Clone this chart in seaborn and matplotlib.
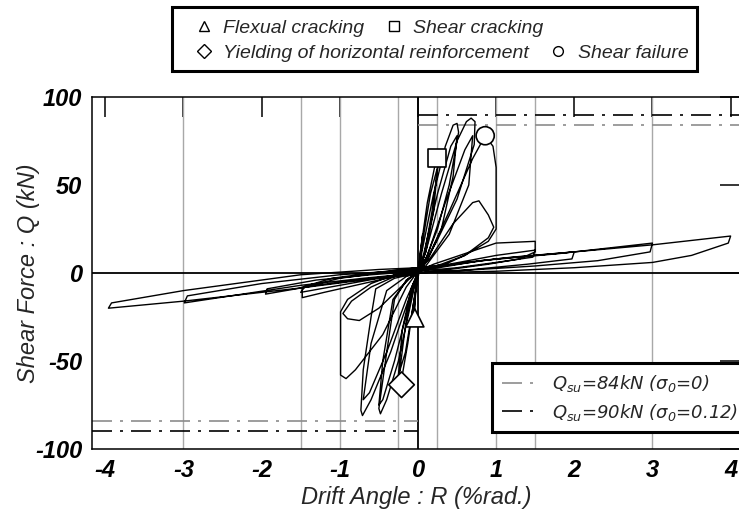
import numpy as np
import pandas as pd
import matplotlib
matplotlib.use("Agg")
import matplotlib.pyplot as plt
import seaborn as sns
from matplotlib.lines import Line2D
from matplotlib.patches import Rectangle
from matplotlib.font_manager import FontProperties

# ---------------- data ----------------
# hysteresis path: drift angle R (%rad.) and shear force Q (kN), cycle by cycle
drift = [
    0, 0.03, 0.06, 0.04, 0.0, -0.03, -0.05, -0.03, 0,
    0.04, 0.12, 0.24, 0.26, 0.18, 0.08, 0.01, -0.05, -0.13, -0.22, -0.24, -0.16, -0.06, 0,
    0.06, 0.16, 0.25, 0.2, 0.1, 0.02, -0.06, -0.16, -0.25, -0.2, -0.08, 0,
    0.05, 0.2, 0.35, 0.45, 0.5, 0.52, 0.4, 0.25, 0.1, 0.0, -0.08, -0.25, -0.4, -0.48, -0.5, -0.4, -0.3, -0.15, 0,
    0.08, 0.25, 0.42, 0.5, 0.45, 0.3, 0.12, 0, -0.1, -0.3, -0.45, -0.5, -0.45, -0.32, -0.12, 0,
    0.1, 0.3, 0.5, 0.62, 0.68, 0.73, 0.72, 0.5, 0.24, 0.08, 0, -0.12, -0.35, -0.6, -0.71, -0.73, -0.7, -0.6, -0.54, -0.3, 0,
    0.12, 0.35, 0.6, 0.7, 0.65, 0.4, 0.1, 0, -0.15, -0.4, -0.62, -0.7, -0.6, -0.4, -0.15, 0,
    0.1, 0.4, 0.7, 0.86, 0.96, 1.0, 1.0, 1.0, 0.9, 0.6, 0.3, 0, -0.15, -0.45, -0.8, -0.92, -0.99, -0.99, -0.99, -0.9, -0.6, -0.3, 0,
    0.15, 0.45, 0.7, 0.78, 0.9, 0.97, 0.9, 0.6, 0.3, 0, -0.15, -0.5, -0.75, -0.9, -0.96, -0.85, -0.6, -0.3, 0,
    0.2, 0.6, 1.0, 1.5, 1.5, 1.3, 0.9, 0.4, 0, -0.3, -0.8, -1.2, -1.48, -1.48, -1.1, -0.6, -0.2, 0,
    0.4, 1.0, 1.5, 1.47, 1.0, 0.5, 0, -0.5, -1.0, -1.5, -1.45, -1.0, -0.5, 0,
    0.6, 1.2, 2.0, 1.97, 1.4, 0.7, 0, -0.6, -1.3, -1.95, -1.93, -1.3, -0.6, 0,
    0.8, 1.8, 3.0, 2.97, 2.3, 1.5, 0.6, 0, -0.7, -1.5, -2.99, -2.95, -2.0, -1.0, 0,
    1.0, 2.0, 3.0, 4.0, 3.97, 3.5, 3.0, 2.0, 1.0, 0, -1.5, -3.0, -3.96, -3.92, -3.0, -1.5, -0.5, 0,
]
force = [
    0, 12, 22, 10, 1, -12, -24, -10, -1,
    15, 40, 66, 62, 35, 10, 1, -15, -40, -63, -58, -30, -6, 0,
    18, 45, 60, 35, 12, 2, -18, -45, -58, -32, -8, 0,
    12, 45, 72, 84, 85, 80, 50, 25, 8, 1, -15, -50, -72, -80, -77, -45, -15, -4, 0,
    12, 45, 72, 78, 55, 25, 7, 0, -15, -50, -72, -75, -50, -15, -3, 0,
    12, 45, 75, 86, 88, 86, 73, 42, 18, 5, 0, -15, -45, -72, -81, -78, -55, -25, -9, -3, 0,
    10, 40, 70, 78, 50, 22, 4, 0, -15, -45, -68, -72, -40, -10, -2, 0,
    6, 35, 65, 78, 72, 60, 40, 25, 18, 10, 5, 1, -8, -35, -55, -60, -58, -40, -22, -15, -6, -1, 2,
    8, 28, 40, 41, 33, 26, 20, 10, 4, 1, -5, -20, -27, -26, -23, -16, -8, -2, 1,
    5, 11, 17, 18, 12, 8, 5, 2, 0, -2, -7, -11, -14, -8, -3, 0, 2, 3,
    5, 10, 13, 9, 6, 3, 1, -3, -7, -11, -8, -3, 0, 2,
    6, 9, 12, 8, 5, 2, 0, -3, -7, -12, -9, -4, -1, 1,
    7, 11, 17, 12, 7, 4, 1.5, 0, -3, -7, -17, -13, -6, -1, 2,
    8, 12, 16, 21, 17, 10, 6, 3, 1, 0, -8.5, -16, -20, -17, -10, -1, 2, 3,
]

# damage events
event_names = ["Flexual cracking", "Shear cracking",
               "Yielding of horizontal reinforcement", "Shear failure"]
event_R = [-0.04, 0.24, -0.21, 0.86]
event_Q = [-25.5, 65.5, -63.5, 78]
event_markers = ["^", "s", "D", "o"]

# design shear strengths
qsu_values = [84, 90]
qsu_labels = [r"$Q_{su}$=84kN ($\sigma_0$=0)", r"$Q_{su}$=90kN ($\sigma_0$=0.12)"]
qsu_colors = ["#8c8c8c", "black"]

x_ticks = [-4, -3, -2, -1, 0, 1, 2, 3, 4]
y_ticks = [-100, -50, 0, 50, 100]
grid_R = [-3, -1.5, -1, -0.25, 0.25, 1, 1.5, 3]

# ---------------- style ----------------
sns.set_style("white")
plt.rcParams["font.family"] = ["Liberation Sans", "DejaVu Sans"]
plt.rcParams["axes.unicode_minus"] = False
plt.rcParams["mathtext.fontset"] = "custom"
plt.rcParams["mathtext.rm"] = "DejaVu Sans:oblique"
plt.rcParams["mathtext.it"] = "DejaVu Sans:oblique"
plt.rcParams["mathtext.bf"] = "DejaVu Sans:oblique:bold"

W, H = 739, 514
fig = plt.figure(figsize=(W / 100, H / 100), dpi=100)
L, R_, T, B = 92, 740, 97, 449
ax = fig.add_axes([L / W, (H - B) / H, (R_ - L) / W, (B - T) / H])

xmin, xmax = -4.17, 4.12
ax.set_xlim(xmin, xmax)
ax.set_ylim(-100, 100)

for g in grid_R:
    ax.axvline(g, color="#a8a8a8", lw=1.0, zorder=1)
ax.axhline(0, color="black", lw=1.3, zorder=2)
ax.axvline(0, color="black", lw=1.3, zorder=2)

dash = (0, (12, 4.8, 1.8, 4.8))
for q, c in zip(qsu_values, qsu_colors):
    ax.plot([0, xmax], [q, q], color=c, lw=1.2, linestyle=dash, zorder=2)
    ax.plot([xmin, 0], [-q, -q], color=c, lw=1.2, linestyle=dash, zorder=2)

df = pd.DataFrame({"R": drift, "Q": force})
sns.lineplot(data=df, x="R", y="Q", sort=False, estimator=None, color="black",
             lw=1.0, ax=ax, zorder=3)

ev = pd.DataFrame({"R": event_R, "Q": event_Q, "event": event_names})
sns.scatterplot(data=ev, x="R", y="Q", style="event",
                markers=dict(zip(event_names, event_markers)),
                s=170, color="white", edgecolor="black", linewidth=1.2,
                legend=False, ax=ax, zorder=5)

ax.set_xticks(x_ticks)
ax.set_yticks(y_ticks)
ax.tick_params(direction="in", length=14.4, width=1.1, top=True, right=True,
               labelsize=17, pad=7, colors="black")
for lbl in ax.get_xticklabels() + ax.get_yticklabels():
    lbl.set_fontweight("bold")
    lbl.set_fontstyle("italic")
for s in ax.spines.values():
    s.set_linewidth(1.1)
    s.set_color("black")

ax.set_xlabel("Drift Angle : R (%rad.)", fontsize=17, fontstyle="italic", labelpad=3)
ax.set_ylabel("Shear Force : Q (kN)", fontsize=17, fontstyle="italic")
ax.yaxis.set_label_coords((40 - L) / (R_ - L), 0.5)

# lower-right legend for Qsu lines
qh = [Line2D([], [], color=c, lw=1.2, linestyle=dash) for c in qsu_colors]
leg = ax.legend(qh, qsu_labels, loc="upper left",
                bbox_to_anchor=((492 - L) / (R_ - L), (B - 363) / (B - T)),
                borderaxespad=0, frameon=True, fancybox=False, framealpha=1,
                edgecolor="black", handlelength=1.75, handletextpad=1.0,
                labelspacing=0.42, borderpad=0.55,
                prop=FontProperties(family="DejaVu Sans", style="oblique", size=13))
leg.get_frame().set_linewidth(2.2)

# top legend for damage events (two rows, flowing)
lp = FontProperties(family="Liberation Sans", style="italic", size=14)
mk = [Line2D([], [], marker=m, ls="none", mfc="white", mec="black", ms=7, mew=1.0)
      for m in event_markers]
rows = [([mk[0], mk[1]], event_names[0:2], 19), ([mk[2], mk[3]], event_names[2:4], 44)]
for hs, lbs, ytop in rows:
    lg = fig.legend(hs, lbs, loc="upper left", bbox_to_anchor=(196 / W, 1 - ytop / H),
                    ncol=2, frameon=False, prop=lp, handlelength=0.8,
                    handletextpad=0.6, columnspacing=1.1, borderpad=0,
                    borderaxespad=0)
fig.add_artist(Rectangle((172 / W, 1 - 71 / H), (697 - 172) / W, 64 / H,
                         transform=fig.transFigure, fill=False, lw=2.2,
                         edgecolor="black"))

fig.savefig("out.png", dpi=100)
